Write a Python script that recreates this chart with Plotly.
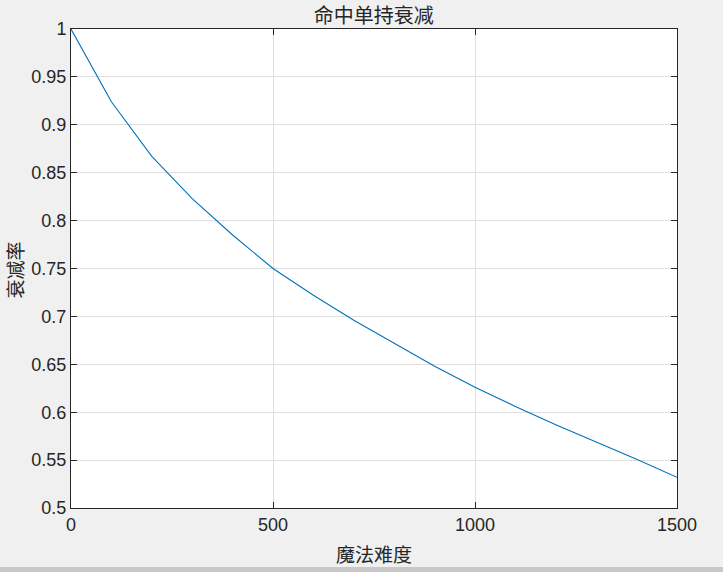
import plotly.graph_objects as go

# 魔法难度 -> 衰减率
difficulty = [0, 100, 200, 300, 400, 500, 600, 700, 800, 900,
              1000, 1100, 1200, 1300, 1400, 1500]
decay = [1.0, 0.924, 0.867, 0.823, 0.785, 0.750, 0.722, 0.696, 0.672, 0.648,
         0.626, 0.606, 0.587, 0.569, 0.551, 0.532]

x_ticks = [0, 500, 1000, 1500]
y_ticks = [0.5, 0.55, 0.6, 0.65, 0.7, 0.75, 0.8, 0.85, 0.9, 0.95, 1]

axis_color = "#262626"
grid_color = "#dfdfdf"
tick_font = dict(family="Liberation Sans, Arial", size=18, color=axis_color)
cjk_font = dict(family="Noto Sans CJK SC", size=19, color=axis_color)

fig = go.Figure()

fig.add_trace(go.Scatter(
    x=difficulty,
    y=decay,
    mode="lines",
    line=dict(color="#0072BD", width=1.1),
    showlegend=False
))

fig.update_layout(
    width=723,
    height=572,
    margin=dict(l=71, r=46, t=29, b=64),
    paper_bgcolor="#f0f0f0",
    plot_bgcolor="white",
    title=dict(text="命中单持衰减", font=dict(family="Noto Sans CJK SC", size=20, color=axis_color),
               x=0.517, xanchor="center", y=0.972, yanchor="middle"),
)

fig.update_xaxes(
    range=[0, 1500],
    tickvals=x_ticks,
    ticks="inside",
    ticklen=6,
    tickcolor=axis_color,
    tickfont=tick_font,
    showline=True,
    linecolor=axis_color,
    linewidth=1,
    mirror="ticks",
    showgrid=True,
    gridcolor=grid_color,
    zeroline=False,
)

fig.update_yaxes(
    range=[0.5, 1],
    tickvals=y_ticks,
    ticks="inside",
    ticklen=6,
    tickcolor=axis_color,
    tickfont=tick_font,
    showline=True,
    linecolor=axis_color,
    linewidth=1,
    mirror="ticks",
    showgrid=True,
    gridcolor=grid_color,
    zeroline=False,
)

# axis labels placed like MATLAB does
fig.add_annotation(text="魔法难度", xref="paper", yref="paper", x=0.5, y=-0.094,
                   xanchor="center", yanchor="middle", showarrow=False, font=cjk_font)
fig.add_annotation(text="衰减率", xref="paper", yref="paper", x=-0.093, y=0.497,
                   xanchor="center", yanchor="middle", textangle=-90, borderpad=0,
                   showarrow=False, font=cjk_font)

# screenshot strip along the bottom edge
fig.add_shape(type="rect", xref="paper", yref="paper",
              x0=-0.2, x1=1.2, y0=-0.135, y1=-0.123,
              fillcolor="#c8c8c8", line=dict(width=0), layer="below")

fig.write_html("out.html",
               config={"displayModeBar": False},
               post_script="document.body.style.margin='0';"
                           "document.body.style.background='#f0f0f0';")
